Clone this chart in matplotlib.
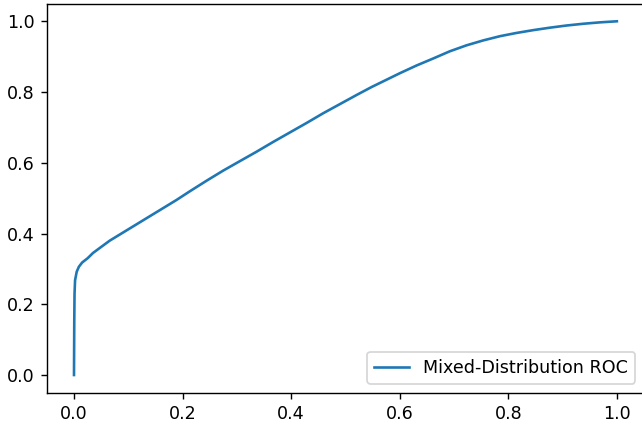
import matplotlib
matplotlib.use('Agg')
import matplotlib.pyplot as plt

# ROC points
fpr = [0.0, 0.0005, 0.001, 0.002, 0.005, 0.009, 0.015, 0.025, 0.035, 0.05, 0.066,
       0.097, 0.128, 0.158, 0.189, 0.214, 0.245, 0.275, 0.306, 0.336, 0.367,
       0.398, 0.429, 0.459, 0.490, 0.521, 0.548, 0.576, 0.600, 0.631, 0.662,
       0.692, 0.723, 0.754, 0.785, 0.815, 0.846, 0.877, 0.907, 0.938, 0.969, 1.0]
tpr = [0.0, 0.15, 0.23, 0.268, 0.292, 0.306, 0.318, 0.330, 0.345, 0.362, 0.380,
       0.409, 0.438, 0.466, 0.495, 0.520, 0.550, 0.578, 0.605, 0.631, 0.659,
       0.686, 0.713, 0.740, 0.766, 0.792, 0.814, 0.835, 0.853, 0.875, 0.895,
       0.915, 0.932, 0.946, 0.958, 0.967, 0.975, 0.982, 0.988, 0.993, 0.997, 1.0]

W, H, DPI = 642, 433, 126
fig = plt.figure(figsize=(W / DPI, H / DPI), dpi=DPI)

# axes box in pixels (right spine falls just outside the picture, like the reference)
left, right, top, bottom = 46.85, 644.0, 3.6, 392.7
ax = fig.add_axes([left / W, (H - bottom) / H, (right - left) / W, (bottom - top) / H])

ax.plot(fpr, tpr, label='Mixed-Distribution ROC')
ax.set_xlim(-0.05, 1.05)
ax.set_ylim(-0.05, 1.05)
ax.legend(loc='lower right')

fig.savefig('out.png', dpi=DPI)
